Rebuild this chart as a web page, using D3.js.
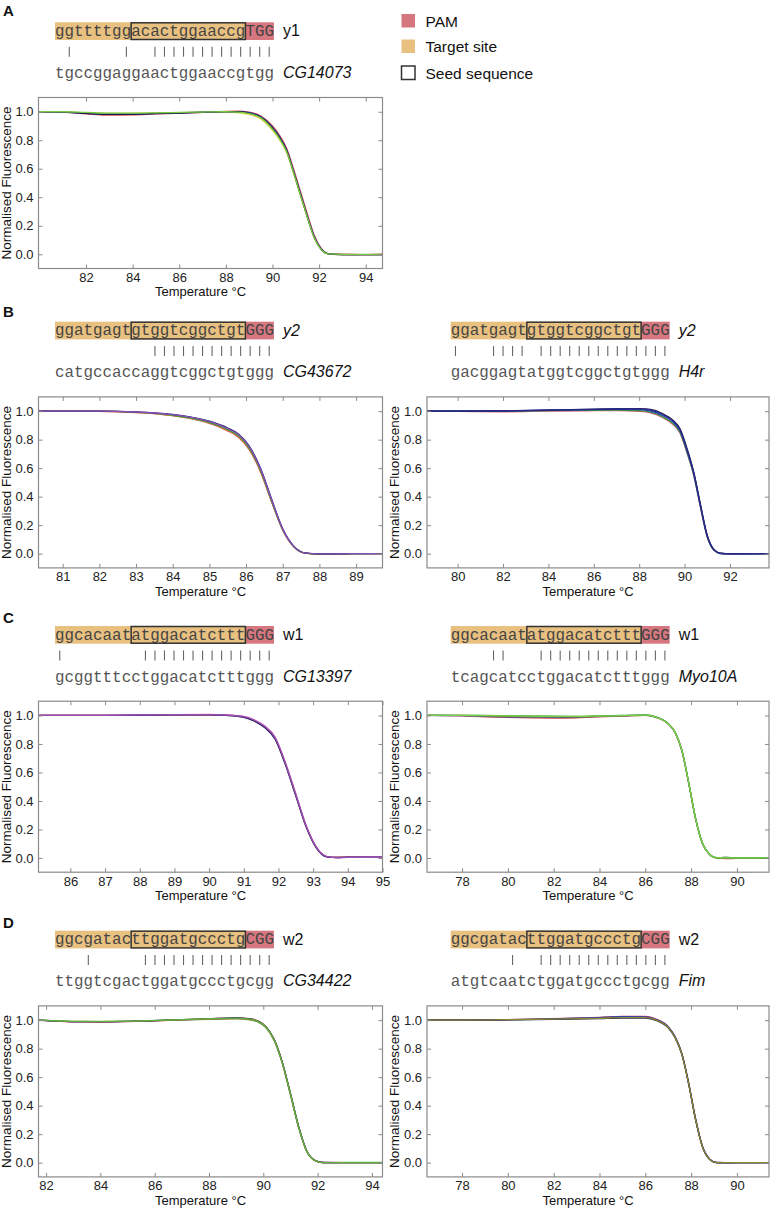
<!DOCTYPE html>
<html><head><meta charset="utf-8">
<script src="https://cdn.jsdelivr.net/npm/d3@7"></script>
<style>body{margin:0;background:#fff} svg{display:block}</style>
</head><body><svg id="fig" width="771" height="1209"></svg>
<script>
// ---------- data ----------
const panelLetters = ["A","B","C","D"];
const guideSeqs = ["ggttttggacactggaaccgTGG","ggatgagtgtggtcggctgtGGG","ggatgagtgtggtcggctgtGGG",
  "ggcacaatatggacatctttGGG","ggcacaatatggacatctttGGG","ggcgatacttggatgccctgCGG","ggcgatacttggatgccctgCGG"];
const guideNames = ["y1","y2","y2","w1","w1","w2","w2"];
const offTargetSeqs = ["tgccggaggaactggaaccgtgg","catgccaccaggtcggctgtggg","gacggagtatggtcggctgtggg",
  "gcggtttcctggacatctttggg","tcagcatcctggacatctttggg","ttggtcgactggatgccctgcgg","atgtcaatctggatgccctgcgg"];
const geneNames = ["CG14073","CG43672","H4r","CG13397","Myo10A","CG34422","Fim"];
const legendLabels = ["PAM","Target site","Seed sequence"];
const yTicks = [0,0.2,0.4,0.6,0.8,1.0];
const xTicksA  = [82,84,86,88,90,92,94];
const xTicksBL = [81,82,83,84,85,86,87,88,89];
const xTicksBR = [80,82,84,86,88,90,92];
const xTicksCL = [86,87,88,89,90,91,92,93,94,95];
const xTicksCR = [78,80,82,84,86,88,90];
const xTicksDL = [82,84,86,88,90,92,94];
const xTicksDR = [78,80,82,84,86,88,90];

const tA = [80,81,82,83,84,85,86,87,88,88.5,89,89.5,90,90.3,90.6,90.9,91.2,91.5,91.8,92.1,92.4,93,94,94.7];
const fA = [
 [1,.997,.985,.976,.978,.985,.99,.996,1.002,1.004,.997,.97,.9,.835,.745,.6,.44,.28,.13,.04,.005,0,-.002,0],
 [1,.999,.992,.988,.989,.991,.994,.997,.998,.994,.982,.95,.87,.805,.715,.57,.41,.255,.11,.03,.002,-.004,-.003,-.004],
 [1,.998,.99,.983,.984,.988,.992,.997,1.001,1.001,.993,.965,.89,.825,.735,.585,.425,.265,.12,.035,.003,-.002,-.003,-.002],
 [1,.998,.988,.981,.982,.987,.991,.996,1.0,1.0,.99,.962,.886,.82,.73,.58,.42,.26,.115,.032,.002,-.002,-.002,-.002],
 [1,1,.995,.99,.99,.992,.995,.998,1.0,.998,.987,.957,.878,.812,.722,.575,.415,.258,.112,.031,.002,-.001,-.001,-.001]
];
const tBL = [80.3,81,82,83,83.5,84,84.5,85,85.5,85.8,86.1,86.4,86.7,87,87.3,87.6,88,89,89.8];
const fBL = [
 [1,1,.999,.99,.982,.968,.948,.915,.862,.815,.725,.57,.36,.165,.048,.004,-.002,0,0],
 [1,1,1,.991,.983,.969,.949,.917,.866,.82,.73,.576,.363,.166,.049,.004,-.002,0,0],
 [1,1,1,.992,.984,.971,.951,.92,.87,.825,.735,.58,.365,.168,.05,.004,-.003,-.001,0],
 [1,1,1,.995,.988,.977,.958,.93,.882,.838,.75,.595,.38,.175,.053,.005,-.002,0,0],
 [1,1,1,.994,.987,.975,.956,.927,.878,.834,.745,.59,.375,.172,.051,.005,-.002,0,0]
];
const tBR = [78.6,80,82,84,86,87,88,88.5,89,89.5,89.8,90.1,90.4,90.7,91,91.3,91.6,92,93,93.7];
const fBR = [
 [1,.998,.995,1.0,1.003,1.003,.998,.988,.958,.905,.845,.71,.55,.325,.116,.023,.001,-.001,0,0],
 [1,1,1.0,1.003,1.006,1.007,1.003,.993,.963,.912,.852,.715,.555,.328,.118,.024,.001,-.002,-.001,-.001],
 [1,1,1.001,1.005,1.01,1.012,1.01,1.0,.972,.922,.862,.725,.562,.333,.12,.025,.001,-.001,-.001,0],
 [1,1,1.002,1.007,1.013,1.016,1.018,1.012,.985,.935,.876,.742,.575,.345,.128,.028,.002,0,0,0],
 [1,1,1.003,1.008,1.014,1.017,1.016,1.008,.98,.93,.87,.735,.57,.34,.125,.027,.002,-.001,0,0]
];
const tCL = [85.1,86,87,88,89,90,90.5,91,91.3,91.6,91.9,92.2,92.5,92.8,93.1,93.4,93.7,94,94.5,95];
const fCL = [
 [1,1,1.0,1.002,1.004,1.004,1.001,.988,.962,.917,.837,.657,.438,.219,.069,.008,.004,.006,.005,.005],
 [1,1,1.0,1.003,1.005,1.005,1.002,.99,.964,.92,.84,.66,.44,.22,.07,.008,.003,.005,.004,.004],
 [1,1,1.001,1.004,1.006,1.007,1.004,.993,.97,.927,.85,.672,.452,.228,.075,.01,.003,.005,.005,.006],
 [1,1,1.0,1.002,1.004,1.004,1.0,.987,.961,.915,.835,.655,.436,.217,.068,.007,.003,.006,.006,.005],
 [1,1,1.001,1.004,1.006,1.006,1.003,.992,.968,.924,.845,.665,.445,.224,.072,.009,.002,.004,.005,.005]
];
const tCR = [76.5,78,79,80,81,82,83,84,85,86,86.5,87,87.3,87.6,87.9,88.2,88.5,88.8,89.1,89.5,90,91.4];
const fCR = [
 [1,.997,.99,.986,.983,.982,.984,.99,.996,1.0,.985,.94,.88,.75,.52,.27,.1,.025,0,-.005,-.003,-.003],
 [1,.999,.994,.99,.988,.987,.989,.994,.998,1.002,.987,.942,.882,.752,.522,.272,.101,.026,.001,.004,0,0],
 [1,1,.997,.994,.991,.99,.99,.995,.998,1.001,.986,.941,.881,.751,.521,.271,.1,.025,0,0,-.002,0],
 [1,1,1.0,.998,.996,.995,.994,.997,1.0,1.003,.988,.943,.884,.755,.525,.275,.103,.027,.002,.003,0,0],
 [1,1,.999,.997,.995,.993,.993,.996,.999,1.002,.987,.942,.883,.753,.523,.273,.102,.026,.001,.002,0,0]
];
const tDL = [81.7,82,83,84,85,86,87,88,89,89.5,89.8,90.1,90.4,90.7,91,91.3,91.6,91.9,92.2,93,94,94.4];
const fDL = [
 [1,.997,.988,.987,.99,.995,1.002,1.01,1.016,1.01,.995,.955,.865,.705,.485,.255,.083,.016,.001,0,0,0],
 [1,.998,.99,.99,.992,.997,1.003,1.008,1.012,1.005,.99,.95,.86,.7,.48,.25,.08,.015,0,0,0,0],
 [1,.997,.989,.989,.991,.996,1.003,1.009,1.015,1.008,.993,.953,.864,.704,.484,.254,.082,.016,.001,0,0,0],
 [1,.998,.991,.99,.991,.996,1.002,1.006,1.009,1.002,.987,.946,.855,.695,.476,.247,.078,.014,0,0,0,0],
 [1,.999,.992,.992,.993,.998,1.004,1.01,1.014,1.007,.992,.952,.862,.702,.482,.252,.081,.015,0,.001,.001,.001]
];
const tDR = [76.5,78,80,82,84,85,86,86.5,87,87.3,87.6,87.9,88.2,88.5,88.8,89.1,89.5,90,91.4];
const fDR = [
 [1,1.0,1.003,1.008,1.015,1.02,1.02,1.0,.95,.88,.76,.55,.3,.11,.025,0,0,0,0],
 [1,1.0,1.004,1.01,1.02,1.027,1.026,1.005,.955,.885,.765,.555,.305,.113,.026,.001,0,0,0],
 [1,1.0,1.004,1.009,1.018,1.024,1.023,1.003,.953,.883,.763,.553,.303,.112,.026,.001,0,0,0],
 [1,1.0,1.002,1.006,1.011,1.015,1.015,.996,.946,.876,.756,.546,.296,.108,.024,0,-.002,0,0],
 [1,1.0,1.003,1.007,1.013,1.018,1.018,.998,.948,.878,.758,.548,.298,.109,.024,0,0,0,0]
];

// ---------- styles / layout ----------
const cPAM = "#d6767e", cTarget = "#e8c080";
const palettes = [
 ["#d9434f","#e3d04a","#2740b0","#1b1b5c","#76cc3f"],
 ["#d9434f","#e0902a","#3a9a3a","#1b1b6a","#8a4fb8"],
 ["#d9607a","#3a9a3a","#2a44b8","#1b1b4a","#2a2a8a"],
 ["#8a7a30","#d9434f","#e070b0","#24246a","#9a50b8"],
 ["#d9434f","#2a44b8","#8a8a30","#3aa03a","#78d048"],
 ["#d9434f","#2a44b8","#1b1b6a","#8a8a30","#5fb040"],
 ["#3aa03a","#d9434f","#2a44b8","#1b1b6a","#8a8a30"]
];
const cw = 9.52; // monospace char width
const L = [38.5, 382.5], R = [427, 769];
const panels = [
 {x0:55,   T:22.3,  fx:L, dom:[79.96,94.72], ticks:xTicksA,  t:tA,  f:fA,  italic:false},
 {x0:55,   T:321.7, fx:L, dom:[80.34,89.72], ticks:xTicksBL, t:tBL, f:fBL, italic:true},
 {x0:450.7,T:321.7, fx:R, dom:[78.65,93.72], ticks:xTicksBR, t:tBR, f:fBR, italic:true},
 {x0:55,   T:626,   fx:L, dom:[85.08,95.0],  ticks:xTicksCL, t:tCL, f:fCL, italic:false},
 {x0:450.7,T:626,   fx:R, dom:[76.47,91.4],  ticks:xTicksCR, t:tCR, f:fCR, italic:false},
 {x0:55,   T:930.7, fx:L, dom:[81.72,94.39], ticks:xTicksDL, t:tDL, f:fDL, italic:false},
 {x0:450.7,T:930.7, fx:R, dom:[76.47,91.4],  ticks:xTicksDR, t:tDR, f:fDR, italic:false}
];
const letterPos = [[3,16],[3,317],[3,623],[3,928]];

const svg = d3.select("#fig");
const sans = "'Liberation Sans', Arial, sans-serif";
const mono = "'Liberation Mono', 'Courier New', monospace";

// panel letters
svg.selectAll("text.plet").data(panelLetters).join("text").attr("class","plet")
  .attr("x",(d,i)=>letterPos[i][0]).attr("y",(d,i)=>letterPos[i][1])
  .attr("font-family",sans).attr("font-weight","bold").attr("font-size",15).attr("fill","#111").text(d=>d);

// legend
const lg = svg.append("g");
const legY = [14, 39.5, 66];
legendLabels.forEach((lab,i)=>{
  const r = lg.append("rect").attr("x",401.5).attr("y",legY[i]).attr("width",13.5).attr("height",13.5);
  if(i===0) r.attr("fill",cPAM);
  else if(i===1) r.attr("fill",cTarget);
  else r.attr("fill","#fff").attr("stroke","#333").attr("stroke-width",1.5);
  lg.append("text").attr("x",425.5).attr("y",legY[i]+12.7).attr("font-family",sans).attr("font-size",15.5)
    .attr("fill","#111").text(lab);
});

panels.forEach((p,k)=>{
  const g = svg.append("g");
  const seq = guideSeqs[k], off = offTargetSeqs[k], n = seq.length;
  const T = p.T, x0 = p.x0;
  // boxes
  g.append("rect").attr("x",x0).attr("y",T).attr("width",(n-3)*cw).attr("height",17.7).attr("fill",cTarget);
  g.append("rect").attr("x",x0+(n-3)*cw).attr("y",T).attr("width",3*cw).attr("height",17.7).attr("fill",cPAM);
  g.append("text").attr("x",x0).attr("y",T+13.7).attr("font-family",mono).attr("font-size",15.87)
    .attr("fill","#444").attr("textLength",n*cw).attr("lengthAdjust","spacing").text(seq);
  g.append("rect").attr("x",x0+8*cw).attr("y",T+0.5).attr("width",12*cw).attr("height",16.7)
    .attr("fill","none").attr("stroke","#333").attr("stroke-width",1.5);
  g.append("text").attr("x",x0+n*cw+9).attr("y",T+14).attr("font-family",sans).attr("font-size",16)
    .attr("font-style",p.italic?"italic":"normal").attr("fill","#111").text(guideNames[k]);
  // match marks
  const matches = d3.range(n).filter(i=>seq[i].toLowerCase()===off[i].toLowerCase());
  g.selectAll("line.mk").data(matches).join("line").attr("class","mk")
    .attr("x1",i=>x0+(i+0.5)*cw).attr("x2",i=>x0+(i+0.5)*cw)
    .attr("y1",T+24.4).attr("y2",T+34.4).attr("stroke","#666").attr("stroke-width",1.1);
  g.append("text").attr("x",x0).attr("y",T+55.5).attr("font-family",mono).attr("font-size",15.87)
    .attr("fill","#555").attr("textLength",n*cw).attr("lengthAdjust","spacing").text(off);
  g.append("text").attr("x",x0+n*cw+9).attr("y",T+55.5).attr("font-family",sans).attr("font-size",16)
    .attr("font-style","italic").attr("fill","#111").text(geneNames[k]);

  // chart
  const top = T+75.2, h = 171;
  const x = d3.scaleLinear().domain(p.dom).range(p.fx);
  const y = d3.scaleLinear().domain([-0.1,1.1]).range([top+h, top]);
  const clipId = "clip"+k;
  g.append("clipPath").attr("id",clipId).append("rect").attr("x",p.fx[0]).attr("y",top)
    .attr("width",p.fx[1]-p.fx[0]).attr("height",h);
  const line = d3.line().curve(d3.curveMonotoneX);
  const cg = g.append("g").attr("clip-path",`url(#${clipId})`);
  p.f.forEach((vals,si)=>{
    cg.append("path").attr("d", line(p.t.map((tt,j)=>[x(tt), y(vals[j])])))
      .attr("fill","none").attr("stroke",palettes[k][si]).attr("stroke-width",1.3);
  });
  const frameC = "#8a8a8a";
  const styleAxis = sel => { sel.select(".domain").remove(); sel.selectAll(".tick line").attr("stroke",frameC);
    sel.selectAll("text").attr("font-family",sans).attr("font-size",13).attr("fill","#222"); };
  g.append("g").attr("transform",`translate(0,${top+h})`)
    .call(d3.axisBottom(x).tickValues(p.ticks).tickFormat(d3.format("d")).tickSizeInner(-4).tickSizeOuter(0).tickPadding(4.2)).call(styleAxis);
  g.append("g").attr("transform",`translate(0,${top})`)
    .call(d3.axisTop(x).tickValues(p.ticks).tickFormat("").tickSizeInner(-4).tickSizeOuter(0)).call(styleAxis);
  g.append("g").attr("transform",`translate(${p.fx[0]},0)`)
    .call(d3.axisLeft(y).tickValues(yTicks).tickFormat(d3.format(".1f")).tickSizeInner(-4).tickSizeOuter(0).tickPadding(5)).call(styleAxis);
  g.append("g").attr("transform",`translate(${p.fx[1]},0)`)
    .call(d3.axisRight(y).tickValues(yTicks).tickFormat("").tickSizeInner(-4).tickSizeOuter(0)).call(styleAxis);
  g.append("rect").attr("x",p.fx[0]).attr("y",top).attr("width",p.fx[1]-p.fx[0]).attr("height",h)
    .attr("fill","none").attr("stroke",frameC).attr("stroke-width",1.2);
  g.append("text").attr("transform",`translate(${p.fx[0]-28},${top+h/2}) rotate(-90)`)
    .attr("text-anchor","middle").attr("font-family",sans).attr("font-size",13.5).attr("fill","#111")
    .text("Normalised Fluorescence");
  g.append("text").attr("x",(p.fx[0]+p.fx[1])/2-10).attr("y",top+h+27.6).attr("text-anchor","middle")
    .attr("font-family",sans).attr("font-size",13).attr("fill","#111").text("Temperature °C");
});
</script></body></html>
